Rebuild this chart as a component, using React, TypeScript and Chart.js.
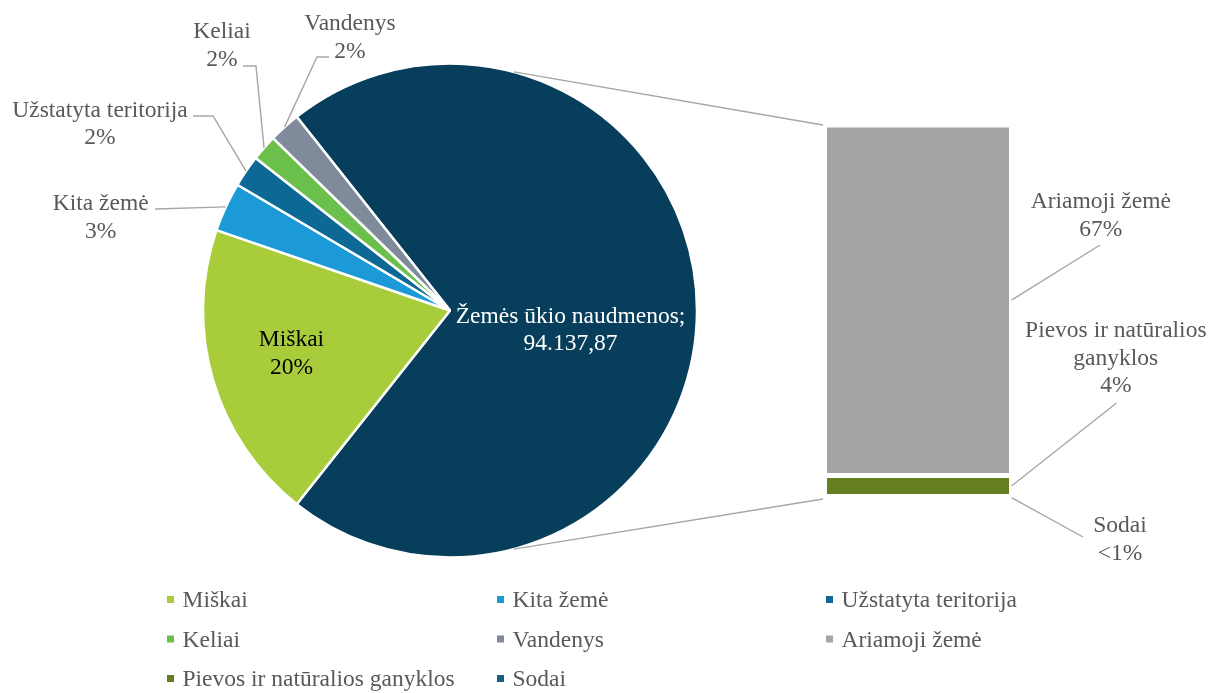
import React, { useEffect, useRef } from "react";
import { Chart, registerables } from "chart.js";

Chart.register(...registerables);

// ---------- data ----------
const pieCategories = ["Žemės ūkio naudmenos", "Miškai", "Kita žemė", "Užstatyta teritorija", "Keliai", "Vandenys"];
const pieValues = [94137.87, 25900, 4250, 2750, 2250, 2712];
const pieColors = ["#073E5B", "#A9CD3A", "#1B9AD7", "#0C6996", "#6BBF4B", "#7F8B9B"];

// bar of pie, bottom to top
const barCategories = ["Sodai", "Pievos ir natūralios ganyklos", "Ariamoji žemė"];
const barValues = [637.87, 5300, 88200];
const barColors = ["#1A5E85", "#667E22", "#A5A5A5"];

const legendOrder = [
  "Miškai",
  "Kita žemė",
  "Užstatyta teritorija",
  "Keliai",
  "Vandenys",
  "Ariamoji žemė",
  "Pievos ir natūralios ganyklos",
  "Sodai",
];

// ---------- styles / layout ----------
const W = 1212;
const H = 693;
const FONT = '"Liberation Serif", "Times New Roman", serif';
const FONT_SIZE = 23.5;
const LINE_H = 27.7;
const TEXT_GRAY = "#595959";
const LEADER_GRAY = "#A6A6A6";
const CONNECTOR_ANGLE = 75; // degrees above / below horizontal

type LabelCfg = {
  x: number;
  y: number;
  color: string;
  nameLines?: string[];
  path?: number[][];
  target?: "arc" | "bar";
  valueText?: boolean;
};

const labelLayout: Record<string, LabelCfg> = {
  "Žemės ūkio naudmenos": { x: 570.5, y: 322.7, color: "#FFFFFF", valueText: true },
  "Miškai": { x: 291.5, y: 346, color: "#000000" },
  "Kita žemė": { x: 100.7, y: 210, color: TEXT_GRAY, path: [[155, 209]], target: "arc" },
  "Užstatyta teritorija": { x: 100, y: 116.7, color: TEXT_GRAY, path: [[193, 116], [213, 116]], target: "arc" },
  "Keliai": { x: 222, y: 38, color: TEXT_GRAY, path: [[243, 66], [256, 66]], target: "arc" },
  "Vandenys": { x: 350, y: 30, color: TEXT_GRAY, path: [[329, 57], [317, 57]], target: "arc" },
  "Ariamoji žemė": { x: 1100.8, y: 208.3, color: TEXT_GRAY, path: [[1100, 245]], target: "bar" },
  "Pievos ir natūralios ganyklos": {
    x: 1115.8,
    y: 337,
    color: TEXT_GRAY,
    nameLines: ["Pievos ir natūralios", "ganyklos"],
    path: [[1116.5, 403]],
    target: "bar",
  },
  "Sodai": { x: 1120, y: 532, color: TEXT_GRAY, path: [[1083, 537]], target: "bar" },
};

const legendCols = [167, 497, 826];
const legendRows = [607, 646.5, 686];

// ---------- helpers ----------
const total = [...pieValues].reduce((a, b) => a + b, 0);

function pct(v: number): string {
  const p = (v / total) * 100;
  return p < 1 ? "<1%" : Math.round(p) + "%";
}

function formatLt(v: number): string {
  const [i, d] = v.toFixed(2).split(".");
  return i.replace(/\B(?=(\d{3})+(?!\d))/g, ".") + "," + d;
}

const colorOf: Record<string, string> = {};
pieCategories.forEach((c, i) => (colorOf[c] = pieColors[i]));
barCategories.forEach((c, i) => (colorOf[c] = barColors[i]));

export default function App() {
  const barCanvas = useRef<HTMLCanvasElement | null>(null);
  const pieCanvas = useRef<HTMLCanvasElement | null>(null);

  useEffect(() => {
    if (!barCanvas.current || !pieCanvas.current) return;
    const barSum = barValues.reduce((a, b) => a + b, 0);

    const barChart = new Chart(barCanvas.current, {
      type: "bar",
      data: {
        labels: ["Žemės ūkio naudmenos"],
        datasets: barCategories.map((c, i) => ({
          label: c,
          data: [barValues[i]],
          backgroundColor: barColors[i],
          borderColor: "#FFFFFF",
          borderWidth: 2.5,
          borderSkipped: false,
          inflateAmount: 0,
          barPercentage: 1,
          categoryPercentage: 1,
        })),
      },
      options: {
        animation: false,
        responsive: false,
        layout: { padding: { left: 824.5, right: W - 1011.5, top: 125, bottom: H - 499 } },
        scales: {
          x: { display: false, stacked: true },
          y: { display: false, stacked: true, min: 0, max: barSum },
        },
        plugins: { legend: { display: false }, tooltip: { enabled: false } },
      } as any,
    });

    const overlay = {
      id: "overlay",
      afterDraw(chart: any) {
        const ctx: CanvasRenderingContext2D = chart.ctx;
        const arcs = chart.getDatasetMeta(0).data;
        ctx.save();
        ctx.font = `${FONT_SIZE}px ${FONT}`;
        ctx.textAlign = "center";
        ctx.textBaseline = "alphabetic";

        const arcPoint = (idx: number) => {
          const a = arcs[idx].getProps(["x", "y", "startAngle", "endAngle", "outerRadius"], true);
          const m = (a.startAngle + a.endAngle) / 2;
          return [a.x + Math.cos(m) * a.outerRadius, a.y + Math.sin(m) * a.outerRadius];
        };
        const barEl = (idx: number) => {
          const b = barChart.getDatasetMeta(idx).data[0] as any;
          return b.getProps(["x", "y", "base", "width"], true);
        };

        // connectors pie -> bar
        const a0 = arcs[0].getProps(["x", "y", "outerRadius"], true);
        const rad = (CONNECTOR_ANGLE * Math.PI) / 180;
        const topBar = barEl(barCategories.length - 1);
        const botBar = barEl(0);
        const barLeft = topBar.x - topBar.width / 2 - 1.5;
        ctx.strokeStyle = LEADER_GRAY;
        ctx.lineWidth = 1.4;
        ctx.beginPath();
        ctx.moveTo(a0.x + Math.cos(rad) * a0.outerRadius, a0.y - Math.sin(rad) * a0.outerRadius);
        ctx.lineTo(barLeft, Math.min(topBar.y, topBar.base));
        ctx.moveTo(a0.x + Math.cos(rad) * a0.outerRadius, a0.y + Math.sin(rad) * a0.outerRadius);
        ctx.lineTo(barLeft, Math.max(botBar.y, botBar.base));
        ctx.stroke();

        // labels
        const drawLabel = (name: string, value: number, end: number[] | null) => {
          const cfg = labelLayout[name];
          if (!cfg) return;
          if (cfg.path && end) {
            ctx.strokeStyle = LEADER_GRAY;
            ctx.lineWidth = 1.4;
            ctx.beginPath();
            cfg.path.forEach((p, i) => (i === 0 ? ctx.moveTo(p[0], p[1]) : ctx.lineTo(p[0], p[1])));
            ctx.lineTo(end[0], end[1]);
            ctx.stroke();
          }
          const lines = cfg.valueText
            ? [name + ";", formatLt(value)]
            : [...(cfg.nameLines || [name]), pct(value)];
          ctx.fillStyle = cfg.color;
          lines.forEach((t, i) => ctx.fillText(t, cfg.x, cfg.y + i * LINE_H));
        };

        pieCategories.forEach((c, i) => {
          drawLabel(c, pieValues[i], labelLayout[c]?.target === "arc" ? arcPoint(i) : null);
        });
        barCategories.forEach((c, i) => {
          const b = barEl(i);
          const end = [b.x + b.width / 2, (b.y + b.base) / 2];
          drawLabel(c, barValues[i], end);
        });

        // legend
        ctx.textAlign = "left";
        legendOrder.forEach((c, i) => {
          const col = i % 3;
          const row = Math.floor(i / 3);
          const x = legendCols[col];
          const y = legendRows[row];
          ctx.fillStyle = colorOf[c];
          ctx.fillRect(x, y - 11, 7, 7);
          ctx.fillStyle = TEXT_GRAY;
          ctx.fillText(c, x + 15.5, y);
        });
        ctx.restore();
      },
    };

    const pieChart = new Chart(pieCanvas.current, {
      type: "pie",
      data: {
        labels: pieCategories,
        datasets: [
          {
            data: pieValues,
            backgroundColor: pieColors,
            borderColor: "#FFFFFF",
            borderWidth: 2.5,
          },
        ],
      },
      options: {
        animation: false,
        responsive: false,
        rotation: 90 - (pieValues[0] / total) * 180,
        radius: 247,
        layout: { padding: { left: 200, right: W - 700, top: 60, bottom: H - 561 } },
        plugins: { legend: { display: false }, tooltip: { enabled: false } },
      } as any,
      plugins: [overlay],
    });

    return () => {
      pieChart.destroy();
      barChart.destroy();
    };
  }, []);

  return (
    <div style={{ position: "absolute", left: 0, top: 0, width: W, height: H, background: "#FFFFFF" }}>
      <canvas ref={barCanvas} width={W} height={H} style={{ position: "absolute", left: 0, top: 0, width: W, height: H }} />
      <canvas ref={pieCanvas} width={W} height={H} style={{ position: "absolute", left: 0, top: 0, width: W, height: H }} />
    </div>
  );
}
